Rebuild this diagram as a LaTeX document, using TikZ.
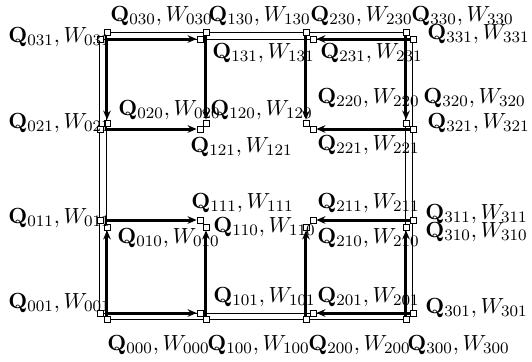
\documentclass[tikz,border=0pt,11pt]{standalone}
\usetikzlibrary{arrows.meta}
\pgfdeclarelayer{bg}
\pgfsetlayers{bg,main}
\newcommand\qwlbl[3]{\node[lab] (l#1) at (#2,#3) {$\mathbf{Q}_{#1}, W_{#1}$};}
\begin{document}
\begin{tikzpicture}[x=0.5pt,y=-0.5pt,
  pt/.style={draw,fill=white,minimum size=3pt,inner sep=0pt,line width=0.4pt},
  lab/.style={anchor=base west,inner sep=0pt},
  ring/.style={line width=0.5pt},
  flow/.style={line width=1.5pt,-{Stealth[length=4.5pt,width=3.8pt]}}]
\useasboundingbox (0,0) rectangle (532,361);
% grid points: k=0 and k=1
\foreach \i/\xa/\xb in {0/107/100,1/206/200,2/306/313,3/406/413}{
  \foreach \j/\ya/\yb in {3/32/39,2/123/129,1/227/220,0/319/313}{
    \node[pt] (n\i\j0) at (\xa,\ya) {};
    \node[pt] (n\i\j1) at (\xb,\yb) {};
  }
}
% labels
\qwlbl{030}{110}{21}
\qwlbl{130}{208}{21}
\qwlbl{230}{310}{21}
\qwlbl{330}{411}{21}
\qwlbl{031}{8}{42}
\qwlbl{131}{212}{58}
\qwlbl{231}{320}{58}
\qwlbl{331}{427}{39}
\qwlbl{020}{118}{115}
\qwlbl{120}{210}{115}
\qwlbl{220}{317}{103}
\qwlbl{320}{423}{103}
\qwlbl{021}{8}{128}
\qwlbl{121}{190}{152}
\qwlbl{221}{317}{150}
\qwlbl{321}{427}{128}
\qwlbl{111}{191}{208}
\qwlbl{211}{317}{208}
\qwlbl{011}{8}{223}
\qwlbl{311}{425}{219}
\qwlbl{010}{117}{243}
\qwlbl{110}{213}{232}
\qwlbl{210}{317}{243}
\qwlbl{310}{425}{237}
\qwlbl{001}{8}{308}
\qwlbl{101}{213}{302}
\qwlbl{201}{317}{302}
\qwlbl{301}{425}{313}
\qwlbl{000}{107}{350}
\qwlbl{100}{207}{350}
\qwlbl{200}{308}{350}
\qwlbl{300}{407}{350}
\begin{pgfonlayer}{bg}
% outer rings
\draw[ring] (n030) -- (n130) -- (n230) -- (n330) -- (n320) -- (n310) -- (n300)
  -- (n200) -- (n100) -- (n000) -- (n010) -- (n020) -- (n030);
\draw[ring] (n031) -- (n131) -- (n231) -- (n331) -- (n321) -- (n311) -- (n301)
  -- (n201) -- (n101) -- (n001) -- (n011) -- (n021) -- (n031);
% top-left square
\draw[flow] (n030 |- n031) -- (n131);
\draw[flow] (n030 |- n031) -- (n020);
\draw[flow] (n130) -- (n120);
\draw[flow] (n020 |- n021) -- (n121);
% top-right square
\draw[flow] (n331) -- (n231);
\draw[flow] (n230) -- (n220);
\draw[flow] (n330) -- (n320);
\draw[flow] (n321) -- (n221);
% bottom-left square
\draw[flow] (n010 |- n011) -- (n111);
\draw[flow] (n000) -- (n010);
\draw[flow] (n100) -- (n110);
\draw[flow] (n000 |- n001) -- (n101);
% bottom-right square
\draw[flow] (n311) -- (n211);
\draw[flow] (n200) -- (n210);
\draw[flow] (n300) -- (n310);
\draw[flow] (n301) -- (n201);
\end{pgfonlayer}
\end{tikzpicture}
\end{document}
